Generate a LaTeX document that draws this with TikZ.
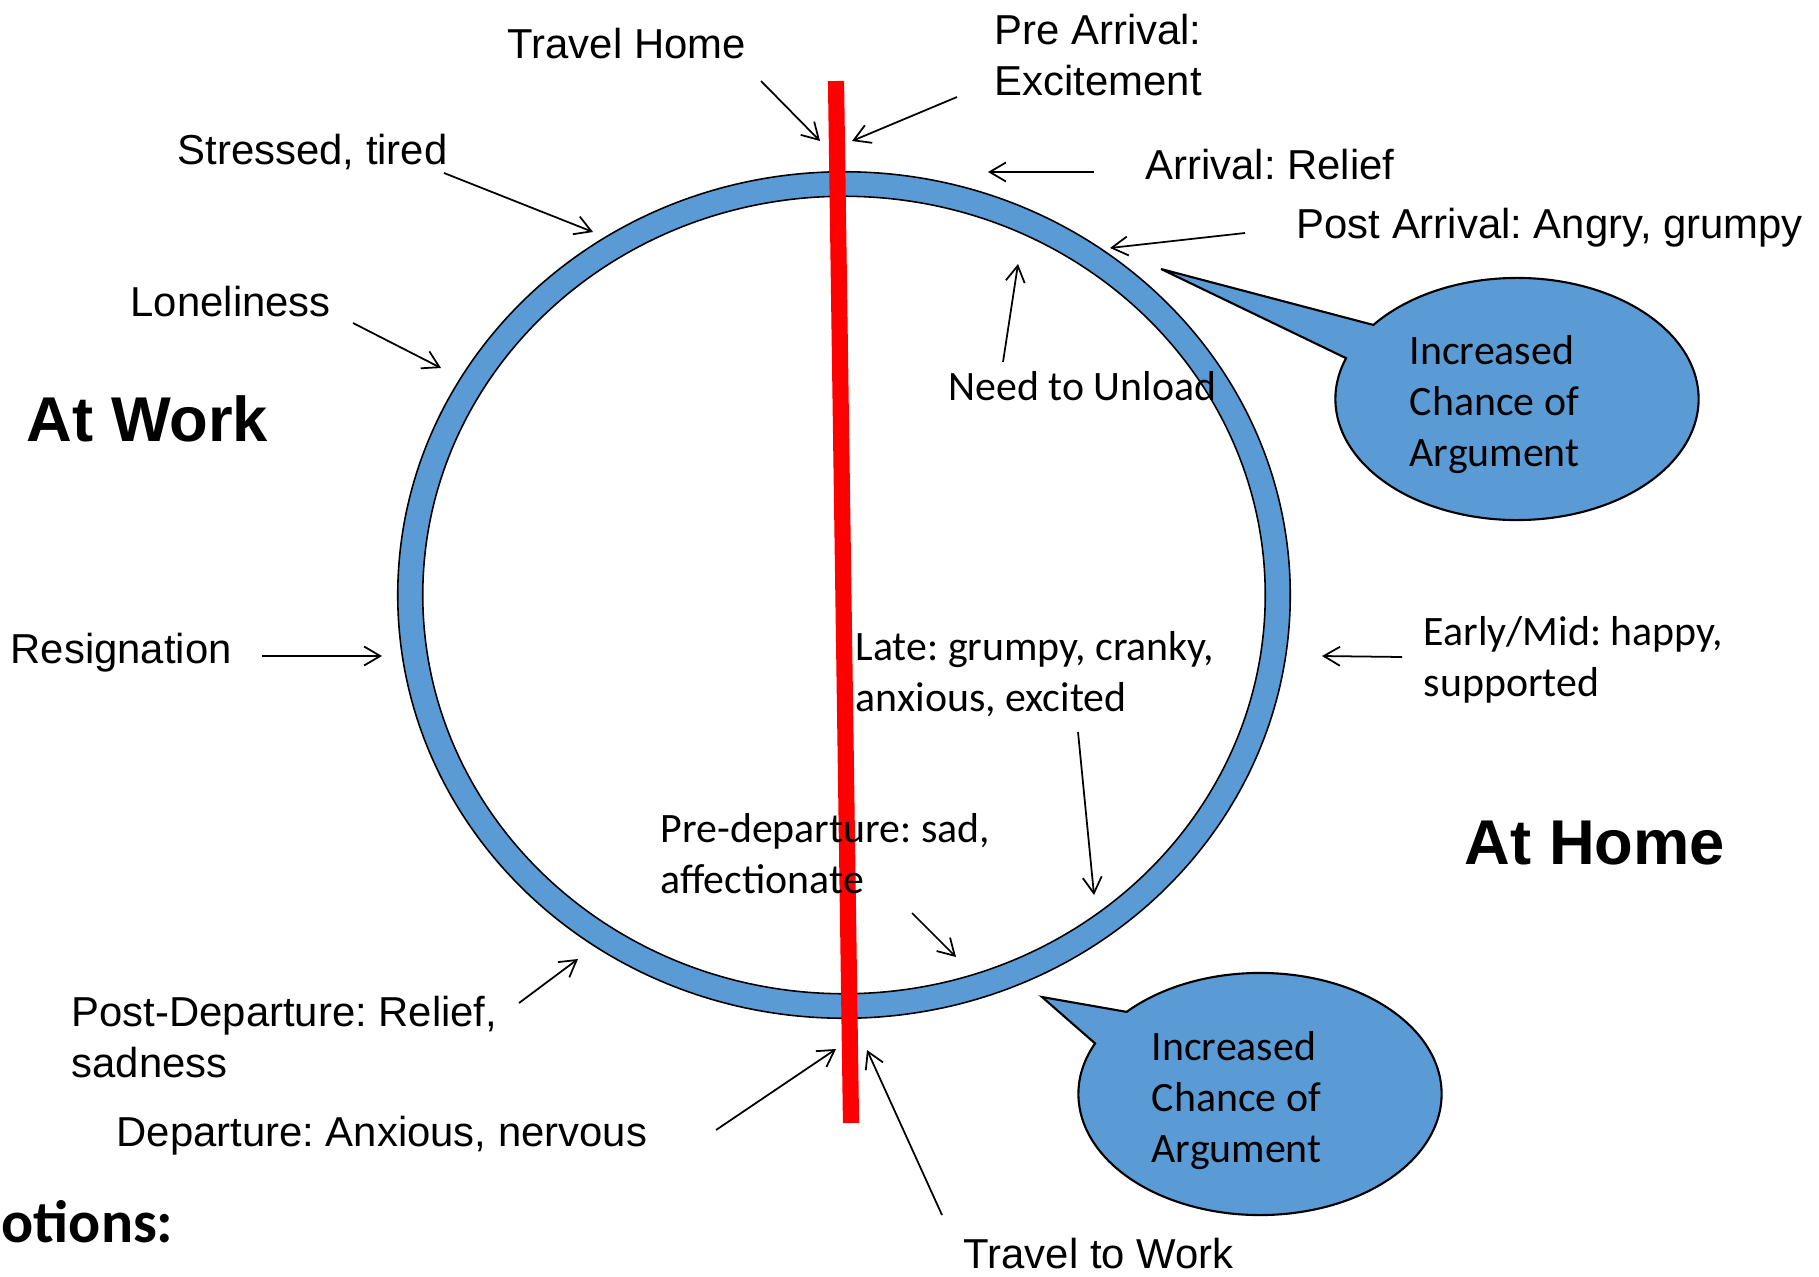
\documentclass[tikz,border=0pt]{standalone}
\usepackage{fontspec}
\setmainfont{Liberation Sans}
\newfontfamily\calibri{Carlito}
\usetikzlibrary{arrows.meta, shapes.callouts, positioning}
\definecolor{ringblue}{RGB}{91,155,213}
\frenchspacing

\tikzset{
  lbl/.style={font=\fontsize{11.9}{14.5}\selectfont, inner sep=0pt, align=left, anchor=north west},
  clbl/.style={lbl, font=\calibri\fontsize{11.9}{14.5}\selectfont},
  place/.style={font=\bfseries\fontsize{18}{22}\selectfont, inner sep=0pt, anchor=north west},
  arr/.style={-{Straight Barb[length=4.6pt,width=5.4pt]}, line width=0.5pt},
  redbar/.style={red, line width=4.6pt},
  bubble/.style={ellipse callout, draw=black, fill=ringblue, line width=0.6pt, inner sep=0pt,
    minimum width=3.63cm, minimum height=2.42cm, callout pointer arc=18}
}

\begin{document}
\begin{tikzpicture}[x=0.01cm, y=-0.01cm]
  \useasboundingbox (0,0) rectangle (1819,1276);

  % The ring of the cycle
  \coordinate (ctr) at (844,595);
  \fill[ringblue, even odd rule]
    (ctr) ellipse [x radius=4.46cm, y radius=4.23cm]
    (ctr) ellipse [x radius=4.21cm, y radius=3.985cm];
  \draw[line width=0.45pt] (ctr) ellipse [x radius=4.46cm, y radius=4.23cm];
  \draw[line width=0.45pt] (ctr) ellipse [x radius=4.21cm, y radius=3.985cm];

  % Work / home divide
  \coordinate (bartop) at (836,81);
  \coordinate (barbot) at (851,1123);
  \draw[redbar] (bartop) -- (barbot);

  % Labels round the ring
  \node (trhome) [lbl] at (507,27) {Travel Home};
  \node (prearr) [lbl] at (994,13) {Pre Arrival:\\Excitement};
  \node (arr)    [lbl] at (1145,148) {Arrival: Relief};
  \node (postarr)[lbl] at (1296,207) {Post Arrival: Angry, grumpy};
  \node (stress) [lbl] at (177,133) {Stressed, tired};
  \node (lonely) [lbl] at (130,285) {Loneliness};
  \node (resign) [lbl] at (10,632) {Resignation};
  \node (postdep)[lbl] at (71,995) {Post-Departure: Relief,\\sadness};
  \node (dep)    [lbl] at (116,1115) {Departure: Anxious, nervous};
  \node (trwork) [lbl] at (963,1237) {Travel to Work};

  \node (unload) [clbl] at (948,371) {Need to Unload};
  \node (late)   [clbl] at (855,631) {Late: grumpy, cranky,\\anxious, excited};
  \node (predep) [clbl] at (660,813) {Pre-departure: sad,\\affectionate};
  \node (early)  [clbl] at (1423,616) {Early/Mid: happy,\\supported};

  \node (atwork) [place] at (26,395) {At Work};
  \node (athome) [place] at (1464,820) {At Home};
  \node (assume) [font=\calibri\bfseries\fontsize{17}{21}\selectfont, inner sep=0pt, anchor=base west]
    at (1,1242) {otions:};

  % Arrow ends: tails t, heads h
  \coordinate (t1)  at (761,81);   \coordinate (h1)  at (820,141);
  \coordinate (t2)  at (957,97);   \coordinate (h2)  at (852,141);
  \coordinate (t3)  at (1094,172); \coordinate (h3)  at (988,172);
  \coordinate (t4)  at (1245,233); \coordinate (h4)  at (1110,248);
  \coordinate (t5)  at (1003,362); \coordinate (h5)  at (1018,264);
  \coordinate (t6)  at (444,173);  \coordinate (h6)  at (593,232);
  \coordinate (t7)  at (353,323);  \coordinate (h7)  at (441,368);
  \coordinate (t8)  at (262,656);  \coordinate (h8)  at (382,656);
  \coordinate (t9)  at (1402,657); \coordinate (h9)  at (1322,656);
  \coordinate (t10) at (1078,732); \coordinate (h10) at (1094,895);
  \coordinate (t11) at (912,913);  \coordinate (h11) at (956,957);
  \coordinate (t12) at (519,1003); \coordinate (h12) at (578,959);
  \coordinate (t13) at (716,1130); \coordinate (h13) at (836,1049);
  \coordinate (t14) at (942,1215); \coordinate (h14) at (867,1050);
  \foreach \i in {1,...,14}
    \draw[arr] (t\i) -- (h\i);

  % Speech bubbles
  \coordinate (tipA) at (1161,269);
  \coordinate (tipB) at (1042,997);
  \node (argueA) [bubble, callout absolute pointer={(tipA)}] at (1517,399) {};
  \node (argueB) [bubble, callout absolute pointer={(tipB)}] at (1260,1094) {};
  \node (argueAtxt) [clbl] at (1409,335) {Increased\\Chance of\\Argument};
  \node (argueBtxt) [clbl] at (1151,1031) {Increased\\Chance of\\Argument};
\end{tikzpicture}
\end{document}
